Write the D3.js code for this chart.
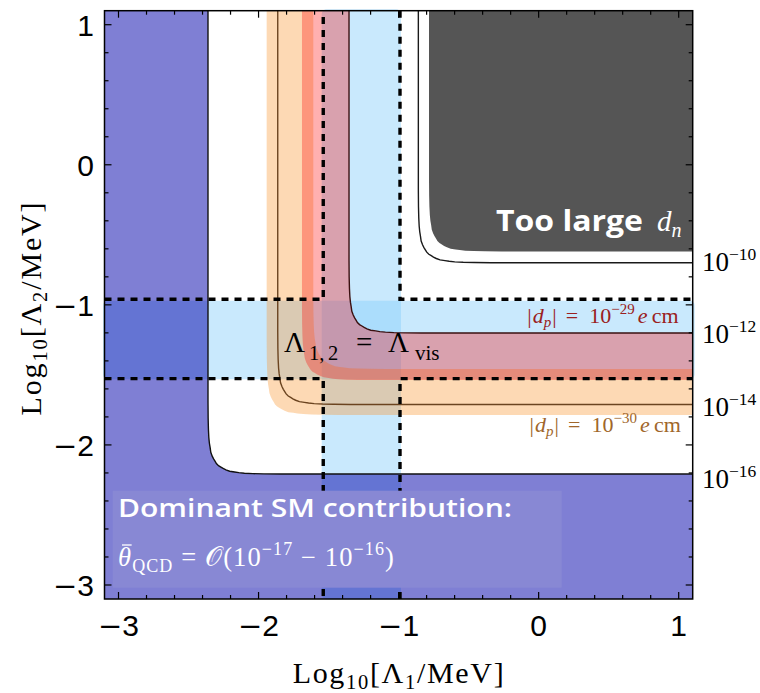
<!DOCTYPE html>
<html><head><meta charset="utf-8">
<script src="https://cdn.jsdelivr.net/npm/d3@7"></script>
<style>body{margin:0;background:#fff}svg{display:block}</style>
</head><body><svg id="c" width="760" height="693"></svg>
<script>
// ---------- data ----------
const xDomain = [-3.1, 1.1];
const yDomain = [-3.1, 1.1];
const majorTicks = [-3, -2, -1, 0, 1];
const majorTickLabels = ["\u22123", "\u22122", "\u22121", "0", "1"];
const minorTicks = [-3.0,-2.8,-2.6,-2.4,-2.2,-2.0,-1.8,-1.6,-1.4,-1.2,-1.0,-0.8,-0.6,-0.4,-0.2,0.0,0.2,0.4,0.6,0.8,1.0];

// contour lines of theta_bar (asymptotes in log10 units)
const contourExponents = ["\u221210", "\u221212", "\u221214", "\u221216"];
const contourX = [-0.859, -1.354, -1.863, -2.361];
const contourY = [-0.699, -1.201, -1.711, -2.208];
const contourColors = ["#1a1a1a", "#3a1010", "#6b4420", "#111111"];
const contourLabelY = [-0.755, -1.272, -1.79, -2.305];

// corner shape of every L-shaped boundary (offsets from the asymptotes)
const cornerDX = [0, 0.001, 0.003, 0.006, 0.01, 0.015, 0.02, 0.03, 0.04, 0.05, 0.06, 0.075, 0.092, 0.108, 0.128, 0.155, 0.19, 0.22, 0.26, 0.32, 0.40, 0.52];
const cornerDY = [0.52, 0.40, 0.32, 0.26, 0.22, 0.19, 0.155, 0.128, 0.108, 0.092, 0.075, 0.06, 0.05, 0.04, 0.03, 0.02, 0.015, 0.01, 0.006, 0.003, 0.001, 0];

// |d_p| bands: [outer x, outer y, inner x, inner y]
const band30 = [-1.942, -1.786, -1.609, -1.458];   // 10^-30 e cm
const band29 = [-1.690, -1.537, -1.354, -1.201];   // 10^-29 e cm
// "too large d_n" region asymptotes
const dnRegion = [-0.783, -0.619];
// Lambda_vis window
const visX = [-1.549, -0.983];
const visY = [-1.532, -0.970];
const visDashX = [-1.538, -0.990];
const visDashY = [-1.527, -0.960];

// ---------- setup ----------
const svg = d3.select("#c");
const L = 104.5, R = 692.7, T = 10.7, B = 599;
const x = d3.scaleLinear().domain(xDomain).range([L, R]);
const y = d3.scaleLinear().domain(yDomain).range([B, T]);
const EXT = 1.35; // beyond the plot edges (clipped)

svg.append("defs").append("clipPath").attr("id","plot")
  .append("rect").attr("x",L).attr("y",T).attr("width",R-L).attr("height",B-T);

function lcurve(x0, y0){
  return [[x0, EXT]].concat(cornerDX.map((d,i)=>[x0+d, y0+cornerDY[i]])).concat([[EXT, y0]]);
}
const line = d3.line().x(d=>x(d[0])).y(d=>y(d[1]));
const poly = d3.line().x(d=>x(d[0])).y(d=>y(d[1]));

// light blue cross (Lambda_vis window) - drawn first (under everything)
svg.append("rect").attr("x", x(visX[0])).attr("width", x(visX[1])-x(visX[0]))
  .attr("y", T-1.5).attr("height", B-T+2).attr("rx",5)
  .attr("fill","rgba(135,206,250,0.45)");
svg.append("rect").attr("x", L-1.5).attr("width", R-L+3.5)
  .attr("y", y(visY[1])).attr("height", y(visY[0])-y(visY[1])).attr("rx",5)
  .attr("fill","rgba(135,206,250,0.45)");

const g = svg.append("g").attr("clip-path","url(#plot)");

function bandPts(b){
  const o = lcurve(b[0], b[1]);
  const i = lcurve(b[2], b[3]).reverse();
  return o.concat(i);
}
g.append("path").attr("d", poly(bandPts(band30))).attr("fill","rgba(249,146,41,0.35)");
g.append("path").attr("d", poly(bandPts(band29))).attr("fill","rgba(255,0,0,0.31)");

const smPts = [[-3.3, EXT]].concat(lcurve(contourX[3], contourY[3])).concat([[EXT,-3.3],[-3.3,-3.3]]);
g.append("path").attr("d", poly(smPts)).attr("fill","rgba(0,0,170,0.5)");

const dnPts = lcurve(dnRegion[0], dnRegion[1]).concat([[EXT,EXT]]);
g.append("path").attr("d", poly(dnPts)).attr("fill","#555555");

contourX.forEach((cx,i)=>{
  g.append("path").attr("d", line(lcurve(cx, contourY[i])))
    .attr("fill","none").attr("stroke",contourColors[i]).attr("stroke-width",1.4);
});

const dashPaths = [
  [[xDomain[0], visDashY[1]], [visDashX[0], visDashY[1]], [visDashX[0], yDomain[1]]],
  [[visDashX[1], yDomain[1]], [visDashX[1], visDashY[1]], [xDomain[1], visDashY[1]]],
  [[xDomain[0], visDashY[0]], [visDashX[0], visDashY[0]], [visDashX[0], yDomain[0]]],
  [[visDashX[1], yDomain[0]], [visDashX[1], visDashY[0]], [xDomain[1], visDashY[0]]]
];
dashPaths.forEach(p=>{
  g.append("path").attr("d", poly(p)).attr("fill","none").attr("stroke","#000")
   .attr("stroke-width",3.4).attr("stroke-dasharray","7,6");
});

// ---------- rich text helper ----------
function rich(parent, px, py, parts, attrs){
  const t = parent.append("text").attr("x",px).attr("y",py);
  Object.entries(attrs||{}).forEach(([k,v])=>t.attr(k,v));
  let off = 0;
  parts.forEach(p=>{
    const s = t.append("tspan").text(p.t);
    const sh = p.shift||0;
    if (p.x!==undefined){ s.attr("x", p.x).attr("y", py+sh); }
    else if (sh!==off) s.attr("dy", sh-off);
    off = sh;
    if (p.size) s.attr("font-size", p.size);
    if (p.italic) s.attr("font-style","italic");
    if (p.family) s.attr("font-family", p.family);
    if (p.weight) s.attr("font-weight", p.weight);
    if (p.dx) s.attr("dx", p.dx);
    if (p.ls) s.attr("letter-spacing", p.ls);
  });
  return t;
}
function fit(t, target){
  const n = t.node();
  const len = n.getComputedTextLength();
  const k = n.getNumberOfChars();
  if (k>1) t.attr("letter-spacing", (target-len)/(k-1));
  return t;
}
const SERIF = "'Liberation Serif','Times New Roman',serif";
const SANS = "'Liberation Sans',Arial,sans-serif";
const HSANS = "'Open Sans',Lato,sans-serif";

// SM annotation box
svg.append("rect").attr("x",112.7).attr("y",490.7).attr("width",449).attr("height",97)
  .attr("fill","#8888d4");
svg.append("text").attr("x",118).attr("y",517).attr("fill","#fff")
  .attr("font-family",HSANS).attr("font-weight",600).attr("font-size",26)
  .attr("textLength",394).attr("lengthAdjust","spacingAndGlyphs")
  .text("Dominant SM contribution:");
const th = rich(svg, 118, 566, [
  {t:"\u03b8", italic:true},
  {t:"QCD", size:18, shift:6},
  {t:" = ", shift:0},
  {t:"\ud835\udcaa"},
  {t:"(10"},
  {t:"\u221217", size:18, shift:-11},
  {t:" \u2212 10", shift:0},
  {t:"\u221216", size:18, shift:-11},
  {t:")", shift:0}
], {"font-family":SERIF, "font-size":26.5, fill:"#fff"});
fit(th, 277);
{
  const ex = th.node().getExtentOfChar(0);
  svg.append("line").attr("x1", ex.x+4).attr("x2", ex.x+ex.width-0.5)
    .attr("y1", ex.y+3).attr("y2", ex.y+3).attr("stroke","#fff").attr("stroke-width",1.3);
}

// Too large d_n
svg.append("text").attr("x",496).attr("y",231).attr("fill","#fff")
  .attr("font-family",HSANS).attr("font-weight",700).attr("font-size",28.5)
  .attr("textLength",147).attr("lengthAdjust","spacingAndGlyphs").text("Too large");
rich(svg, 657, 231, [
  {t:"d", italic:true},
  {t:"n", italic:true, size:20, shift:6}
], {"font-family":SERIF, "font-size":29, fill:"#fff"});

// Lambda label (pieces placed where the reference shows them)
rich(svg, 284, 352, [
  {t:"\u039b"},
  {t:"1,", size:20.5, shift:8, x:309},
  {t:"2", size:20.5, shift:8, x:328},
  {t:"=", shift:0, x:356},
  {t:"\u039b", x:388},
  {t:"vis", size:21, shift:8, x:415}
], {"font-family":SERIF, "font-size":29, fill:"#000"});

// |d_p| labels
function dpLabel(x0, yb, exp, color){
  rich(svg, x0, yb, [
    {t:"|"},{t:"d", italic:true, dx:1},{t:"p", italic:true, size:15, shift:4},
    {t:"|", shift:0, dx:1},{t:"=", x:x0+38.5},{t:"10", x:x0+62},{t:exp, size:15, shift:-9},
    {t:"e", italic:true, shift:0, x:x0+110.5},{t:"cm", x:x0+124.5}
  ], {"font-family":SERIF, "font-size":22, fill:color});
}
dpLabel(527.3, 323, "\u221229", "#9a2020");
dpLabel(529.5, 432, "\u221230", "#a0662a");

// contour labels on right
contourExponents.forEach((e,i)=>{
  rich(svg, 702, y(contourLabelY[i]), [
    {t:"10"},{t:e, size:17.5, shift:-11}
  ], {"font-family":SERIF, "font-size":27, fill:"#000"});
});

// ---------- frame & ticks ----------
svg.append("rect").attr("x",L).attr("y",T).attr("width",R-L).attr("height",B-T)
  .attr("fill","none").attr("stroke","#000").attr("stroke-width",1.5);
const tk = svg.append("g").attr("stroke","#000").attr("stroke-width",1.2);
minorTicks.forEach(v=>{
  const major = Math.abs(v-Math.round(v))<1e-9;
  const len = major ? 7 : 4;
  tk.append("line").attr("x1",x(v)).attr("x2",x(v)).attr("y1",B).attr("y2",B-len);
  tk.append("line").attr("x1",x(v)).attr("x2",x(v)).attr("y1",T).attr("y2",T+len);
  tk.append("line").attr("y1",y(v)).attr("y2",y(v)).attr("x1",L).attr("x2",L+len);
  tk.append("line").attr("y1",y(v)).attr("y2",y(v)).attr("x1",R).attr("x2",R-len);
});
majorTicks.forEach((v,i)=>{
  const s = majorTickLabels[i];
  const neg = s.startsWith("\u2212");
  const tx = svg.append("text").attr("x",x(v)).attr("y",636).attr("text-anchor","middle")
    .attr("font-family",SANS).attr("font-size",30);
  const ty = svg.append("text").attr("x",94).attr("y",y(v)+11).attr("text-anchor","end")
    .attr("font-family",SANS).attr("font-size",30);
  [tx,ty].forEach(t=>{
    if (neg){
      t.append("tspan").text("\u2212").attr("font-family","'DejaVu Sans',sans-serif").attr("font-size",29);
      t.append("tspan").text(s.slice(1));
    } else t.text(s);
  });
});

// axis titles
fit(rich(svg, 399, 683, [
  {t:"Log"},{t:"10", size:20.5, shift:6},{t:"[\u039b", shift:0},{t:"1", size:20.5, shift:6},{t:"/MeV]", shift:0}
], {"font-family":SERIF, "font-size":30, "text-anchor":"middle"}), 211);
const yl = svg.append("g").attr("transform","translate(41,308) rotate(-90)");
fit(rich(yl, 0, 0, [
  {t:"Log"},{t:"10", size:20.5, shift:6},{t:"[\u039b", shift:0},{t:"2", size:20.5, shift:6},{t:"/MeV]", shift:0}
], {"font-family":SERIF, "font-size":30, "text-anchor":"middle"}), 213);
</script></body></html>
